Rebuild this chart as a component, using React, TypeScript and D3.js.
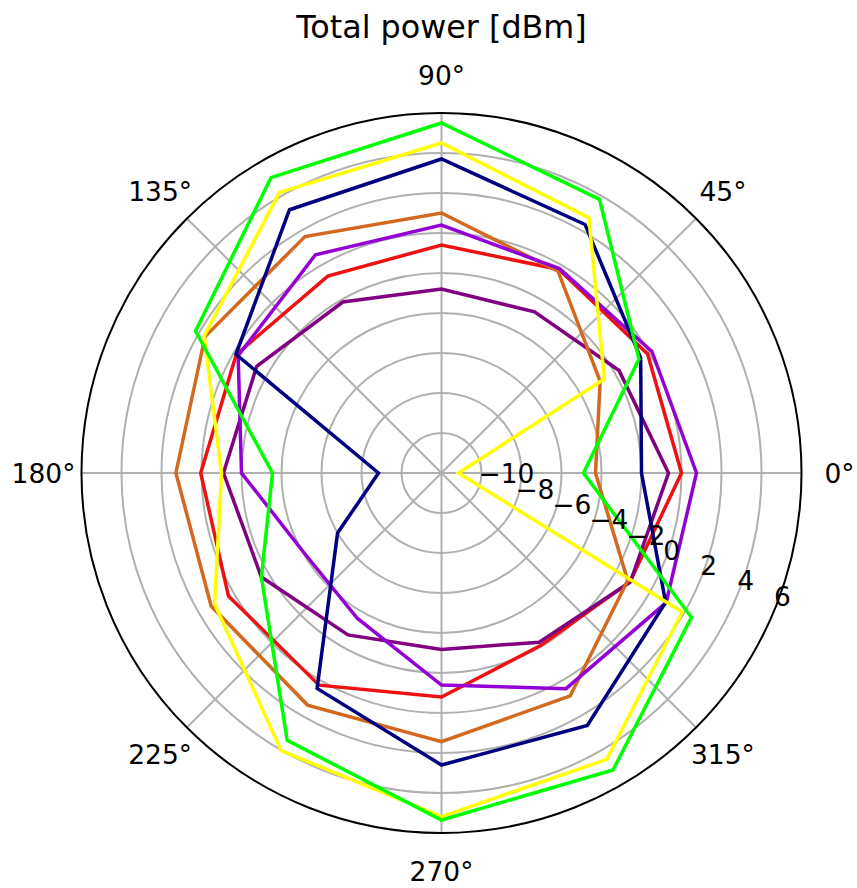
import { useEffect, useRef } from "react"
import * as d3 from "d3"

// angles in degrees (counterclockwise from the right), one value per angle
const angles = [0, 30, 60, 90, 120, 150, 180, 210, 240, 270, 300, 330]
const rTicks = [-10, -8, -6, -4, -2, 0, 2, 4, 6]
const thetaTicks = [0, 45, 90, 135, 180, 225, 270, 315]

const redValues = [0.0, -0.1, -0.25, -0.6, -0.63, -0.15, 0.04, 0.3, 0.25, -0.8, -2.05, -1.12]
const purpleValues = [-0.65, -1.75, -2.7, -2.8, -2.13, -1.33, -1.1, -1.6, -2.65, -3.18, -2.23, -1.1]
const brownValues = [-4.3, -2.84, -0.35, 1.0, 1.65, 1.65, 1.28, 1.3, 1.4, 1.43, 0.87, -1.25]
const violetValues = [0.75, 0.15, -0.2, 0.4, 0.6, -0.26, -2.0, -4.05, -3.6, -1.4, 0.45, 0.97]
const navyValues = [-2.0, -0.5, 2.35, 3.7, 3.2, -0.13, -8.85, -6.0, 0.44, 2.6, 2.58, 0.94]
const yellowValues = [-11.15, -2.6, 2.74, 4.5, 4.2, 1.7, -1.0, 1.1, 4.03, 5.18, 4.53, 1.9]
const greenValues = [-4.9, -0.6, 3.8, 5.5, 5.05, 2.2, -3.55, -1.6, 3.43, 5.35, 5.15, 2.43]

const seriesColors = ["#ee1111", "#800080", "#d2691e", "#9400d3", "#000080", "#ffff00", "#00ff00"]
const seriesValues = [redValues, purpleValues, brownValues, violetValues, navyValues, yellowValues, greenValues]

const App = () => {
  const svgRef = useRef<SVGSVGElement>(null)

  useEffect(() => {
    document.body.style.margin = "0"
    const width = 857
    const height = 888
    const cx = 441.5
    const cy = 473
    const radius = 360
    const font = "DejaVu Sans, sans-serif"

    const svg = d3.select(svgRef.current)
    svg.selectAll("*").remove()
    svg.append("rect").attr("width", width).attr("height", height).attr("fill", "#fff")

    const r = d3.scaleLinear().domain([-12, 6]).range([0, radius])
    const toRad = (deg: number) => (deg * Math.PI) / 180

    const g = svg.append("g").attr("transform", `translate(${cx},${cy})`)

    // radial grid circles
    g.selectAll(".rgrid")
      .data(rTicks.slice(0, -1))
      .enter()
      .append("circle")
      .attr("r", d => r(d))
      .attr("fill", "none")
      .attr("stroke", "#b0b0b0")
      .attr("stroke-width", 2)

    // angular grid lines
    g.selectAll(".tgrid")
      .data(thetaTicks)
      .enter()
      .append("line")
      .attr("x1", 0)
      .attr("y1", 0)
      .attr("x2", d => radius * Math.cos(toRad(d)))
      .attr("y2", d => -radius * Math.sin(toRad(d)))
      .attr("stroke", "#b0b0b0")
      .attr("stroke-width", 2)

    // series
    const line = d3.lineRadial<number>()
      .angle((d, i) => Math.PI / 2 - toRad(angles[i]))
      .radius(d => r(d))
      .curve(d3.curveLinearClosed)

    seriesValues.forEach((vals, i) => {
      g.append("path")
        .datum(vals)
        .attr("fill", "none")
        .attr("stroke", seriesColors[i])
        .attr("stroke-width", 3.5)
        .attr("stroke-linejoin", "miter")
        .attr("d", line)
    })

    // outer spine
    g.append("circle")
      .attr("r", radius)
      .attr("fill", "none")
      .attr("stroke", "#000")
      .attr("stroke-width", 2)

    // theta labels
    g.selectAll(".tlabel")
      .data(thetaTicks)
      .enter()
      .append("text")
      .attr("x", d => 398 * Math.cos(toRad(d)))
      .attr("y", d => -398 * Math.sin(toRad(d)))
      .attr("text-anchor", "middle")
      .attr("dominant-baseline", "central")
      .attr("font-family", font)
      .attr("font-size", 26.5)
      .attr("fill", "#000")
      .text(d => `${d}°`)

    // radial labels along -22.5°
    const labelAngle = toRad(-22.5)
    g.selectAll(".rlabel")
      .data(rTicks)
      .enter()
      .append("text")
      .attr("x", d => r(d) * Math.cos(labelAngle))
      .attr("y", d => -r(d) * Math.sin(labelAngle) - 5)
      .attr("text-anchor", "start")
      .attr("font-family", font)
      .attr("font-size", 26.5)
      .attr("fill", "#000")
      .text(d => (d < 0 ? `\u2212${Math.abs(d)}` : `${d}`))

    // title
    svg.append("text")
      .attr("x", cx)
      .attr("y", 38)
      .attr("text-anchor", "middle")
      .attr("font-family", font)
      .attr("font-size", 31.8)
      .attr("fill", "#000")
      .text("Total power [dBm]")
  }, [])

  return <svg ref={svgRef} width={857} height={888} style={{ display: "block" }} />
}

export default App
